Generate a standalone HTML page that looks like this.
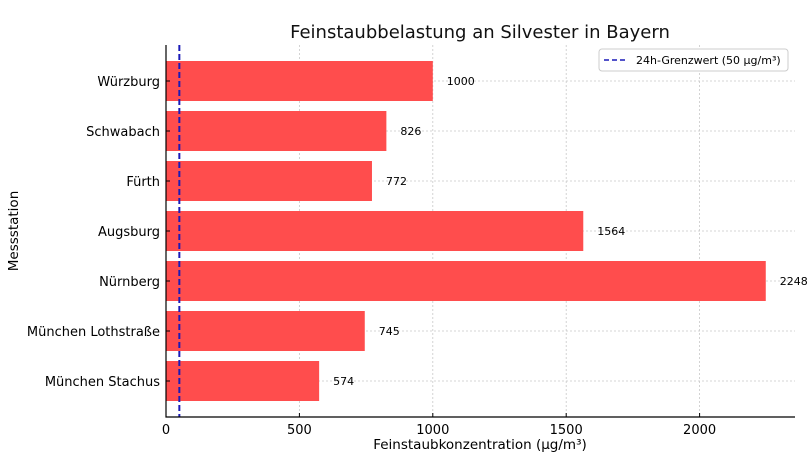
<!DOCTYPE html>
<html><head><meta charset="utf-8"><style>
body{margin:0;background:#fff}
svg{font-family:"DejaVu Sans","Liberation Sans",sans-serif}
</style></head><body>
<svg id="chart" width="812" height="459">
<text x="480" y="38" font-size="18" text-anchor="middle" fill="#111">Feinstaubbelastung an Silvester in Bayern</text>
<g id="grid"></g><g id="bars"></g><g id="axes"></g>
<text x="480" y="449" font-size="13.5" text-anchor="middle">Feinstaubkonzentration (µg/m³)</text>
<text x="18" y="231" font-size="13.5" text-anchor="middle" transform="rotate(-90 18 231)">Messstation</text>
<g>
<rect x="599" y="49" width="189" height="22" rx="3" fill="#fff" stroke="#ccc"/>
<line x1="604" y1="60" x2="627" y2="60" stroke="#1a1ab8" stroke-width="1.6" stroke-dasharray="5,3"/>
<text x="636" y="64" font-size="11">24h-Grenzwert (50 µg/m³)</text>
</g>
</svg>
<script>
const categories=["Würzburg","Schwabach","Fürth","Augsburg","Nürnberg","München Lothstraße","München Stachus"];
const values=[1000,826,772,1564,2248,745,574];
const xTicks=[0,500,1000,1500,2000];
const limit=50;
const ns="http://www.w3.org/2000/svg";
const L=166,R=795,T=45,B=417;
const x=v=>L+v*(133.4/500);
const y=i=>81+i*50;
function mk(p,t,a){const e=document.createElementNS(ns,t);for(const k in a)e.setAttribute(k,a[k]);document.getElementById(p).appendChild(e);return e;}
xTicks.forEach(t=>{
 const g=mk("grid","line",{x1:x(t),x2:x(t),y1:T,y2:B,stroke:"#c8c8c8","stroke-dasharray":"2,2","stroke-width":0.8});
 
 
 const tk=mk("axes","line",{x1:x(t),x2:x(t),y1:B,y2:B-4,stroke:"#000"});
 
 
 const tl=mk("axes","text",{x:x(t),y:B+17,"font-size":13,"text-anchor":"middle"});tl.textContent=t;
 
 
});
categories.forEach((c,i)=>{
 const g=mk("grid","line",{x1:L,x2:R,y1:y(i),y2:y(i),stroke:"#c8c8c8","stroke-dasharray":"2,2","stroke-width":0.8});
 
 
 const b=mk("bars","rect",{x:L,y:y(i)-20,width:x(values[i])-L,height:40,fill:"#ff4d4d"});
 
 
 const v=mk("bars","text",{x:x(values[i])+14,y:y(i)+4,"font-size":11});v.textContent=values[i];
 
 
 const tk=mk("axes","line",{x1:L,x2:L+4,y1:y(i),y2:y(i),stroke:"#000"});
 
 
 const tl=mk("axes","text",{x:L-6,y:y(i)+5,"font-size":13,"text-anchor":"end"});tl.textContent=c;
 
 
});
const lim=mk("bars","line",{x1:x(limit),x2:x(limit),y1:T,y2:B,stroke:"#1a1ab8","stroke-width":2,"stroke-dasharray":"6,3"});


const ax=mk("axes","path",{d:`M${L},${T}V${B}H${R}`,fill:"none",stroke:"#000","stroke-width":1.2});


</script>
</body></html>
